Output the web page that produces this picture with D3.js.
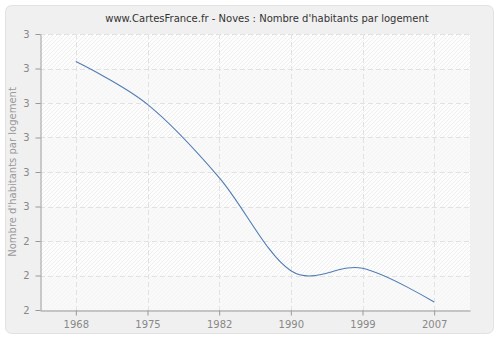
<!DOCTYPE html>
<html>
<head>
<meta charset="utf-8">
<script src="https://cdn.jsdelivr.net/npm/d3@7"></script>
<style>
  body { margin: 0; background: #fff; }
  text { font-family: "DejaVu Sans", Verdana, sans-serif; }
</style>
</head>
<body>
<div id="chart"></div>
<script>
// data
const years = ["1968", "1975", "1982", "1990", "1999", "2007"];
const values = [2.92, 2.796, 2.584, 2.314, 2.321, 2.223];
const yTicks = [2.2, 2.3, 2.4, 2.5, 2.6, 2.7, 2.8, 2.9, 3.0];

const width = 500, height = 340;
const plot = {left: 40, right: 470, top: 34, bottom: 310};

const svg = d3.select("#chart").append("svg")
  .attr("width", width)
  .attr("height", height);

const defs = svg.append("defs");
const hatch = defs.append("pattern")
  .attr("id", "hatch")
  .attr("patternUnits", "userSpaceOnUse")
  .attr("width", 4).attr("height", 4);
hatch.append("rect").attr("width", 4).attr("height", 4).attr("fill", "#fdfdfd");
hatch.append("path")
  .attr("d", "M-1,1 l2,-2 M0,4 l4,-4 M3,5 l2,-2")
  .attr("stroke", "#e9e9e9")
  .attr("stroke-width", 0.7);

// outer box
svg.append("rect")
  .attr("x", 5.5).attr("y", 5.5)
  .attr("width", 488).attr("height", 328)
  .attr("rx", 6)
  .attr("fill", "#f0f0f0")
  .attr("stroke", "#e2e2e2");

//scales
const x = d3.scalePoint()
  .domain(years)
  .range([plot.left, plot.right])
  .padding(0.5);

const y = d3.scaleLinear()
  .domain([2.2, 3.0])
  .range([plot.bottom, plot.top]);

// plot background with hatching
svg.append("rect")
  .attr("x", plot.left).attr("y", plot.top)
  .attr("width", plot.right - plot.left)
  .attr("height", plot.bottom - plot.top)
  .attr("fill", "url(#hatch)");

// alternate tinted bands
const bands = d3.pairs(yTicks).filter((d, i) => i % 2 === 0);
svg.append("g").selectAll("rect")
  .data(bands)
  .enter().append("rect")
    .attr("x", plot.left)
    .attr("width", plot.right - plot.left)
    .attr("y", d => y(d[1]))
    .attr("height", d => y(d[0]) - y(d[1]))
    .attr("fill", "#f7f7f7")
    .attr("fill-opacity", 0.75);

// grid lines
const grid = svg.append("g")
  .attr("stroke", "#e2e2e2")
  .attr("stroke-dasharray", "5,3");

grid.selectAll(".hgrid")
  .data(yTicks.slice(1))
  .enter().append("line")
    .attr("x1", plot.left).attr("x2", plot.right)
    .attr("y1", d => Math.round(y(d)) + 0.5)
    .attr("y2", d => Math.round(y(d)) + 0.5);

grid.selectAll(".vgrid")
  .data(years)
  .enter().append("line")
    .attr("y1", plot.top).attr("y2", plot.bottom)
    .attr("x1", d => Math.round(x(d)) + 0.5)
    .attr("x2", d => Math.round(x(d)) + 0.5);

// axes
const xAxis = svg.append("g")
  .attr("transform", `translate(0,${plot.bottom + 0.5})`)
  .call(d3.axisBottom(x).tickSize(5).tickSizeOuter(0).tickPadding(5));

const yAxis = svg.append("g")
  .attr("transform", `translate(${plot.left + 0.5},0)`)
  .call(d3.axisLeft(y).tickValues(yTicks).tickSize(5).tickSizeOuter(0)
    .tickPadding(6).tickFormat(d3.format(".0f")));

[xAxis, yAxis].forEach(function(a) {
  a.select(".domain").attr("stroke", "#999");
  a.selectAll(".tick line").attr("stroke", "#999");
  a.selectAll(".tick text")
    .attr("fill", "#888")
    .style("font-size", "10px")
    .style("font-family", "DejaVu Sans, Verdana, sans-serif");
});

// the series, uniform catmull-rom spline
const line = d3.line()
  .curve(d3.curveCardinal.tension(0))
  .x((d, i) => x(years[i]))
  .y(d => y(d));

svg.append("path")
  .datum(values)
  .attr("fill", "none")
  .attr("stroke", "#4f7cb4")
  .attr("stroke-width", 1.1)
  .attr("d", line);

// title
svg.append("text")
  .attr("x", 267).attr("y", 22)
  .attr("text-anchor", "middle")
  .attr("fill", "#333")
  .style("font-size", "10px")
  .text("www.CartesFrance.fr - Noves : Nombre d'habitants par logement");

// y axis label
svg.append("text")
  .attr("transform", "translate(16,172) rotate(-90)")
  .attr("text-anchor", "middle")
  .attr("fill", "#999")
  .style("font-size", "10px")
  .text("Nombre d'habitants par logement");
</script>
</body>
</html>
